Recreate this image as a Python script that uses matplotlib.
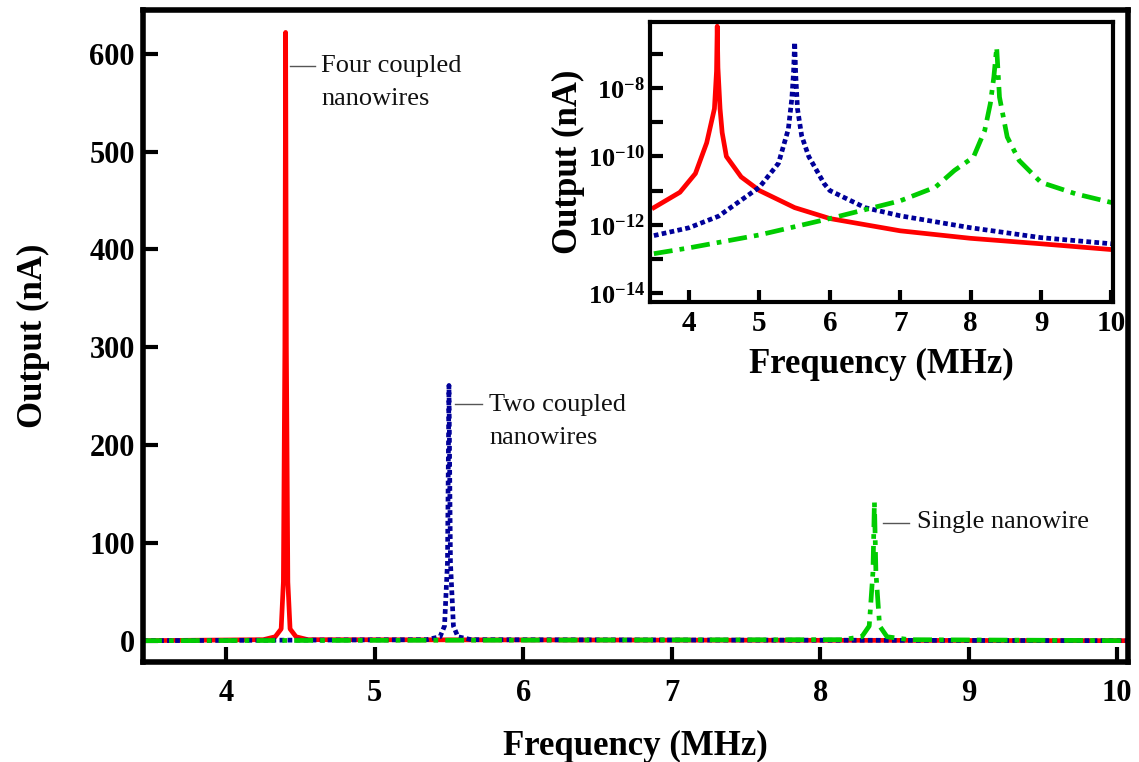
import numpy as np
import matplotlib
matplotlib.use("Agg")
import matplotlib.pyplot as plt
from matplotlib.ticker import FixedLocator, NullFormatter

plt.rcParams['font.family'] = ['Liberation Serif', 'DejaVu Serif']
plt.rcParams['mathtext.fontset'] = 'custom'
plt.rcParams['mathtext.rm'] = 'Liberation Serif:bold'
plt.rcParams['mathtext.it'] = 'Liberation Serif:bold'
plt.rcParams['mathtext.bf'] = 'Liberation Serif:bold'

# Main panel (linear)
f_four = [3.44, 4.25, 4.33, 4.37, 4.385, 4.395, 4.40, 4.405, 4.415, 4.43, 4.47, 4.55, 10.07]
v_four = [0, 1, 4, 12, 60, 300, 622, 300, 60, 12, 4, 1, 0]
f_two = [3.44, 5.35, 5.44, 5.47, 5.49, 5.50, 5.51, 5.53, 5.56, 5.65, 10.07]
v_two = [0, 1, 4, 15, 80, 261, 80, 15, 4, 1, 0]
f_single = [3.44, 8.15, 8.28, 8.33, 8.355, 8.365, 8.375, 8.40, 8.45, 8.60, 10.07]
v_single = [0, 1, 4, 15, 70, 142, 70, 15, 4, 1, 0]

# Inset panel (log scale), log10 of output
fi_four = [3.5, 3.87, 4.09, 4.25, 4.36, 4.39, 4.40, 4.41, 4.44, 4.47, 4.53, 4.74, 5.0, 5.5,
           6.0, 7.0, 8.0, 9.0, 10.0]
li_four = [-11.5, -11.05, -10.5, -9.6, -8.6, -7.5, -6.18, -7.4, -8.6, -9.3, -10.0, -10.6, -11.0,
           -11.5, -11.82, -12.18, -12.4, -12.56, -12.73]
fi_two = [3.5, 4.0, 4.42, 5.0, 5.27, 5.41, 5.46, 5.485, 5.50, 5.515, 5.54, 5.6, 5.7, 5.92, 6.0,
          6.5, 7.0, 8.0, 9.0, 10.0]
li_two = [-12.32, -12.09, -11.75, -10.9, -10.2, -9.2, -8.3, -7.5, -6.65, -7.6, -8.6, -9.4, -10.0,
          -10.8, -11.0, -11.5, -11.74, -12.09, -12.38, -12.56]
fi_single = [3.5, 4.0, 5.0, 6.0, 6.5, 7.0, 7.5, 7.77, 8.04, 8.2, 8.28, 8.33, 8.37, 8.41, 8.52,
             8.69, 9.0, 9.5, 10.0]
li_single = [-12.85, -12.68, -12.3, -11.82, -11.56, -11.3, -10.9, -10.41, -10.02, -9.24, -8.45,
             -7.67, -6.8, -8.26, -9.43, -10.12, -10.76, -11.1, -11.35]

red = '#ff0000'
blue = '#000099'
green = '#00cc00'
dot_style = (0, (1.0, 0.7))
dashdot_style = (0, (4.0, 1.5, 1.0, 1.5))

fig = plt.figure(figsize=(11.39, 7.62), dpi=100)
ax = fig.add_axes([0.1256, 0.131, 0.8644, 0.856])

ax.plot(f_four, v_four, color=red, lw=3.4)
ax.plot(f_two, v_two, color=blue, lw=3.4, linestyle=dot_style)
ax.plot(f_single, v_single, color=green, lw=3.4, linestyle=dashdot_style)

ax.set_xlim(3.44, 10.07)
ax.set_ylim(-22, 645)
ax.set_xticks([4, 5, 6, 7, 8, 9, 10])
ax.set_yticks([0, 100, 200, 300, 400, 500, 600])
ax.tick_params(direction='in', length=11, width=3, labelsize=22)
ax.tick_params(axis='x', pad=12)
ax.tick_params(axis='y', pad=6)
for lab in ax.get_xticklabels() + ax.get_yticklabels():
    lab.set_fontweight('bold')
for s in ax.spines.values():
    s.set_linewidth(4)
ax.set_xlabel('Frequency (MHz)', fontsize=25, fontweight='bold', labelpad=16)
ax.set_ylabel('Output (nA)', fontsize=25, fontweight='bold', labelpad=28)

# annotations with leader lines
ann = dict(fontsize=19, color='#111111', linespacing=1.65)
ax.plot([4.43, 4.60], [588, 588], color='#555555', lw=1)
ax.text(4.64, 599, 'Four coupled\nnanowires', va='top', **ann)
ax.plot([5.54, 5.72], [242, 242], color='#555555', lw=1)
ax.text(5.77, 252, 'Two coupled\nnanowires', va='top', **ann)
ax.plot([8.42, 8.60], [120, 120], color='#555555', lw=1)
ax.text(8.65, 121, 'Single nanowire', va='center', **ann)

# inset
ins = fig.add_axes([0.571, 0.604, 0.406, 0.367])
ins.plot(fi_four, 10 ** np.array(li_four), color=red, lw=3.4)
ins.plot(fi_two, 10 ** np.array(li_two), color=blue, lw=3.4, linestyle=dot_style)
ins.plot(fi_single, 10 ** np.array(li_single), color=green, lw=3.4, linestyle=dashdot_style)
ins.set_yscale('log')
ins.set_xlim(3.45, 10.02)
ins.set_ylim(10 ** -14.26, 10 ** -6.06)
ins.set_xticks([4, 5, 6, 7, 8, 9, 10])
ins.yaxis.set_major_locator(FixedLocator([1e-14, 1e-12, 1e-10, 1e-8]))
ins.yaxis.set_minor_locator(FixedLocator([1e-13, 1e-11, 1e-9, 1e-7]))
ins.yaxis.set_minor_formatter(NullFormatter())
ins.set_yticklabels([r'$10^{-14}$', r'$10^{-12}$', r'$10^{-10}$', r'$10^{-8}$'])
ins.tick_params(which='both', direction='in', length=9, width=3, labelsize=21, pad=6)
ins.tick_params(axis='y', which='both', labelsize=19, pad=4)
for lab in ins.get_xticklabels():
    lab.set_fontweight('bold')
for s in ins.spines.values():
    s.set_linewidth(3)
ins.set_xlabel('Frequency (MHz)', fontsize=25, fontweight='bold', labelpad=8)
ins.set_ylabel('Output (nA)', fontsize=25, fontweight='bold', labelpad=2)

fig.savefig('out.png', dpi=100)
